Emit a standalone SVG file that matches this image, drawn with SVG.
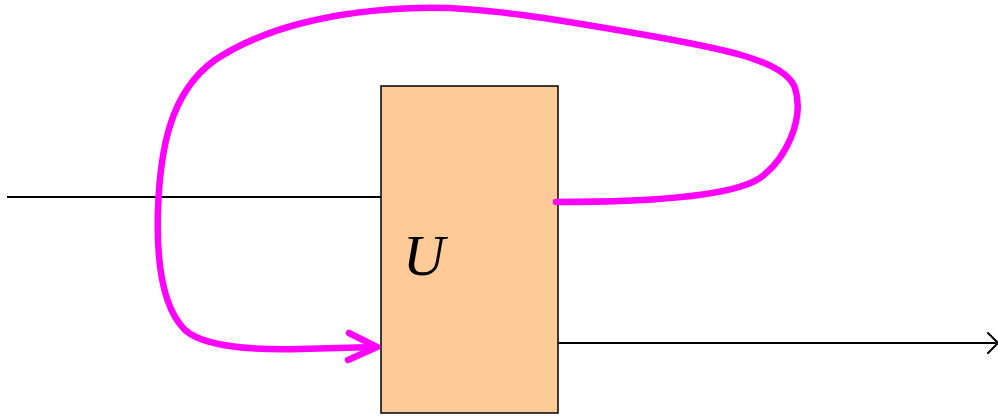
<svg xmlns="http://www.w3.org/2000/svg" width="998" height="416" viewBox="0 0 998 416">
<style>
.wire{stroke:#000;stroke-width:2;fill:none}
.loop{stroke:#ff00ff;stroke-width:6.5;fill:none;stroke-linecap:round;stroke-linejoin:round}
.lbl{font-family:"Liberation Serif",serif;font-style:italic;font-size:58px;fill:#000}
</style>
<g id="connectors">
<line class="wire" x1="7" y1="197" x2="381" y2="197"/>
<line class="wire" x1="558" y1="343" x2="996" y2="343"/>
<polyline class="wire" points="988,333 998,343 988,353" stroke-linecap="round"/>
</g>
<g id="U">
<rect x="381" y="86" width="177" height="327" fill="#fecb98" stroke="#000" stroke-width="1.5"/>
<text class="lbl" x="403" y="275">U</text>
</g>
<g id="feedback">
<path class="loop" d="M556,202 C640,202 730,198 760,178 C785,160 805,120 795,88 C785,60 720,48 640,34 C560,20 480,6 420,8 C330,10 260,30 215,60 C170,92 160,150 158,210 C156,270 165,310 185,330 C205,348 260,350 300,349 L376,347"/>
<polyline class="loop" points="349,333 377,347 348,360"/>
</g>
</svg>
